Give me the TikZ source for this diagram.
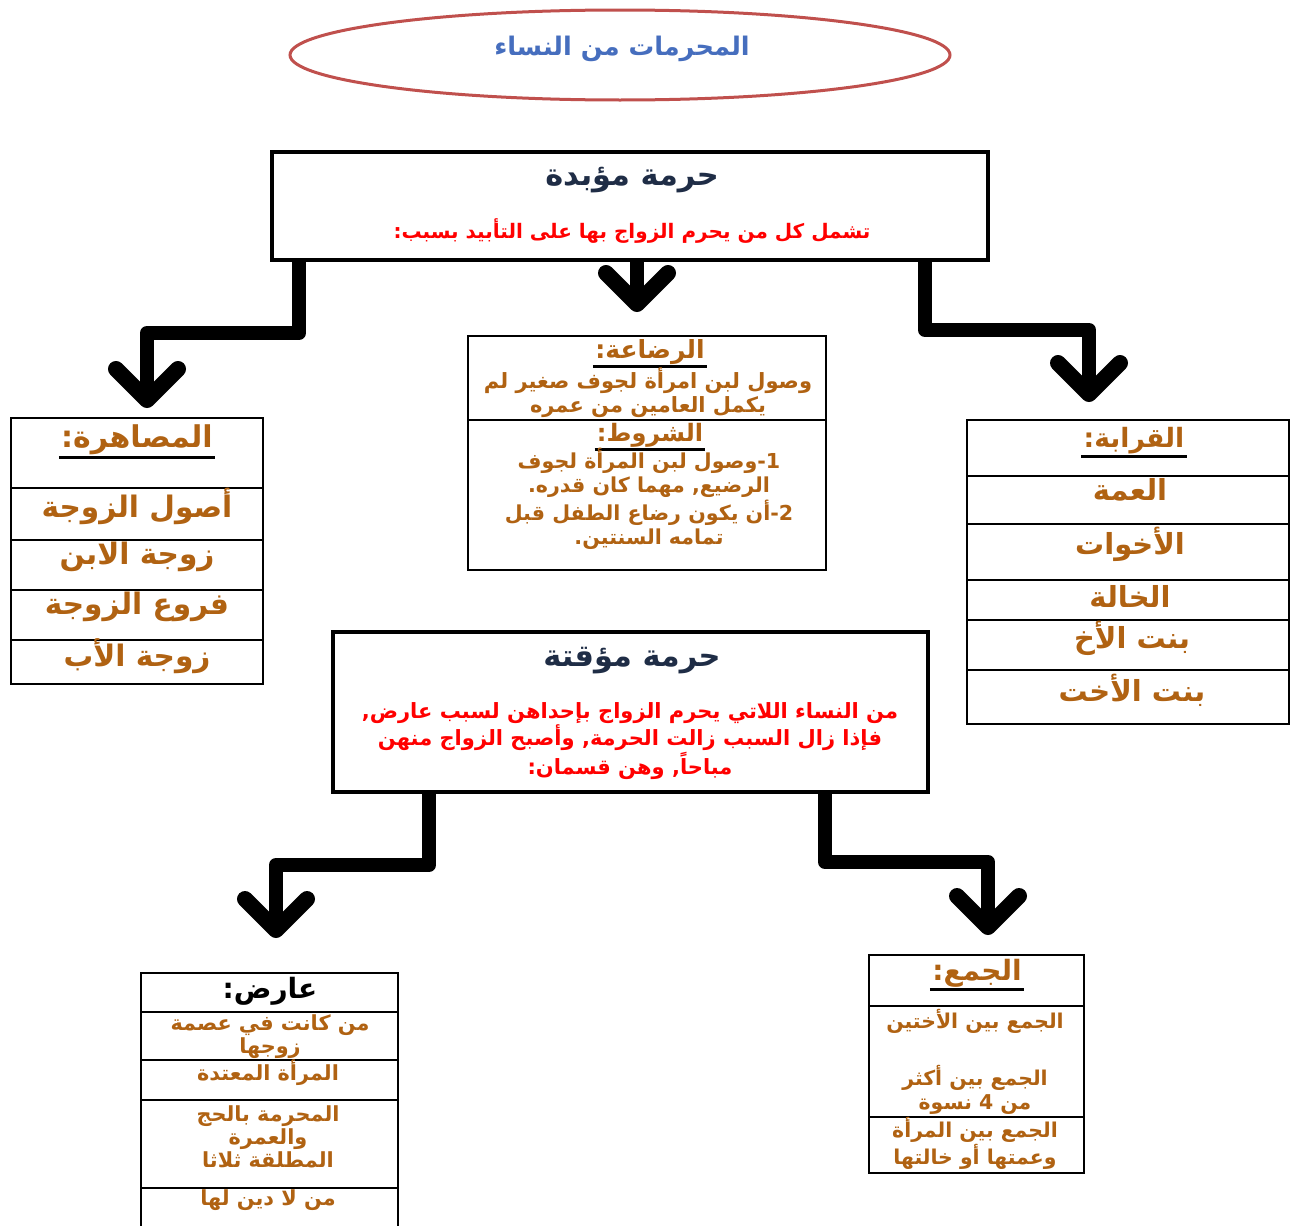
\documentclass[tikz,border=0pt]{standalone}
\usepackage{fontspec}
\usetikzlibrary{shapes.geometric}
\TeXXeTstate=1
\newfontfamily\arfont[Script=Arabic]{DejaVu Sans}
\definecolor{brn}{RGB}{176,98,18}
\definecolor{navy}{RGB}{31,45,70}
\definecolor{ttlblue}{RGB}{70,110,190}
\definecolor{ellred}{RGB}{192,80,77}
\newcommand\AR[1]{{\arfont\bfseries\beginR #1\endR}}
\newcommand\fs[2]{\fontsize{#1}{#2}\selectfont}
\newcommand\chev[1]{\draw[chevst] ([shift={(-31,-31)}]#1) -- (#1) -- ([shift={(31,-31)}]#1);}
\tikzset{
  bigbox/.style={draw=black, line width=2pt, fill=white},
  tbl/.style={draw=black, line width=1pt, fill=white},
  sep/.style={draw=black, line width=1pt},
  conn/.style={draw=black, line width=7pt, line join=round},
  chevst/.style={draw=black, line width=8pt, line join=round, line cap=round},
  txt/.style={inner sep=1pt, align=center},
  brtxt/.style={txt, text=brn},
  redtxt/.style={txt, text=red},
  uline/.style={draw=black, line width=1.5pt}
}
\begin{document}
\begin{tikzpicture}[x=0.5pt,y=-0.5pt]
\useasboundingbox[fill=white] (0,0) rectangle (1291,1226);

% title
\node[ellipse, draw=ellred, line width=1.5pt, minimum width=330pt, minimum height=45pt] (title) at (620,55) {};
\node[txt, text=ttlblue, font=\fs{12.8}{14}] (titletxt) at (622,49) {\AR{المحرمات من النساء}};

% top box
\node[bigbox, minimum width=358pt, minimum height=54pt] (top) at (630,206) {};
\node[txt, text=navy, font=\fs{15.2}{17}] (toph) at (632,180) {\AR{حرمة مؤبدة}};
\node[redtxt, font=\fs{10}{11}] (topr) at (632,231) {\AR{تشمل كل من يحرم الزواج بها على التأبيد بسبب:}};

% rada box
\node[tbl, minimum width=179pt, minimum height=117pt] (rada) at (647,453) {};
\draw[sep] (rada.west |- 0,420) -- (rada.east |- 0,420);
\node[brtxt, font=\fs{12.5}{14}] (radah) at (650,352) {\AR{الرضاعة:}};
\draw[uline] (radah.south west) -- (radah.south east);
\node[brtxt, font=\fs{10.5}{12}] (radat) at (648,393) {\AR{وصول لبن امرأة لجوف صغير لم}\\\AR{يكمل العامين من عمره}};
\node[brtxt, font=\fs{12}{14}] (shuh) at (650,435) {\AR{الشروط:}};
\draw[uline] (shuh.south west) -- (shuh.south east);
\node[brtxt, font=\fs{10.3}{12}] (shut) at (649,499) {\AR{1-وصول لبن المرأة لجوف}\\\AR{الرضيع, مهما كان قدره.}\\\AR{2-أن يكون رضاع الطفل قبل}\\\AR{تمامه السنتين.}};

% musahara table
\node[tbl, minimum width=126pt, minimum height=133pt] (mus) at (137,551) {};
\foreach \yy in {488,540,590,640} \draw[sep] (mus.west |- 0,\yy) -- (mus.east |- 0,\yy);
\node[brtxt, font=\fs{15}{16}] (mush) at (137,440) {\AR{المصاهرة:}};
\draw[uline] (mush.south west) -- (mush.south east);
\node[brtxt, font=\fs{14.8}{16}] (mus1) at (137,506) {\AR{أصول الزوجة}};
\node[brtxt, font=\fs{14.8}{16}] (mus2) at (137,557) {\AR{زوجة الابن}};
\node[brtxt, font=\fs{14.8}{16}] (mus3) at (137,607) {\AR{فروع الزوجة}};
\node[brtxt, font=\fs{14.8}{16}] (mus4) at (137,656) {\AR{زوجة الأب}};

% qaraba table
\node[tbl, minimum width=161pt, minimum height=152pt] (qar) at (1128,572) {};
\foreach \yy in {476,524,580,620,670} \draw[sep] (qar.west |- 0,\yy) -- (qar.east |- 0,\yy);
\node[brtxt, font=\fs{13.3}{15}] (qarh) at (1134,441) {\AR{القرابة:}};
\draw[uline] (qarh.south west) -- (qarh.south east);
\node[brtxt, font=\fs{14.5}{16}] (qar1) at (1130,490) {\AR{العمة}};
\node[brtxt, font=\fs{14.5}{16}] (qar2) at (1130,544) {\AR{الأخوات}};
\node[brtxt, font=\fs{14.5}{16}] (qar3) at (1130,596) {\AR{الخالة}};
\node[brtxt, font=\fs{14.5}{16}] (qar4) at (1132,638) {\AR{بنت الأخ}};
\node[brtxt, font=\fs{14.5}{16}] (qar5) at (1132,690) {\AR{بنت الأخت}};

% temporary box
\node[bigbox, minimum width=297.5pt, minimum height=80pt] (temp) at (630.5,712) {};
\node[txt, text=navy, font=\fs{15.2}{17}] (temph) at (632,661) {\AR{حرمة مؤقتة}};
\node[redtxt, font=\fs{10.5}{13.2}] (tempr) at (630,741) {\AR{من النساء اللاتي يحرم الزواج بإحداهن لسبب عارض,}\\\AR{فإذا زال السبب زالت الحرمة, وأصبح الزواج منهن}\\\AR{مباحاً, وهن قسمان:}};

% arid table
\node[tbl, minimum width=128.5pt, minimum height=133.5pt] (arid) at (269.5,1106.5) {};
\foreach \yy in {1012,1060,1100,1188} \draw[sep] (arid.west |- 0,\yy) -- (arid.east |- 0,\yy);
\node[txt, text=black, font=\fs{14}{16}] (aridh) at (270,991) {\AR{عارض:}};
\node[brtxt, font=\fs{10.4}{11.5}] (arid1) at (270,1037) {\AR{من كانت في عصمة}\\\AR{زوجها}};
\node[brtxt, font=\fs{10.4}{11.5}] (arid2) at (268,1073) {\AR{المرأة المعتدة}};
\node[brtxt, font=\fs{10.4}{11.5}] (arid3) at (268,1137) {\AR{المحرمة بالحج}\\\AR{والعمرة}\\\AR{المطلقة ثلاثا}};
\node[brtxt, font=\fs{10.4}{11.5}] (arid4) at (268,1200) {\AR{من لا دين لها}};

% jam table
\node[tbl, minimum width=107.5pt, minimum height=109pt] (jam) at (976.5,1064) {};
\foreach \yy in {1006,1117} \draw[sep] (jam.west |- 0,\yy) -- (jam.east |- 0,\yy);
\node[brtxt, font=\fs{14}{16}] (jamh) at (977,973) {\AR{الجمع:}};
\draw[uline] (jamh.south west) -- (jamh.south east);
\node[brtxt, font=\fs{10.2}{11}] (jam1) at (975,1021) {\AR{الجمع بين الأختين}};
\node[brtxt, font=\fs{10.2}{12}] (jam2) at (975,1090) {\AR{الجمع بين أكثر}\\\AR{من 4 نسوة}};
\node[brtxt, font=\fs{10.2}{12}] (jam3) at (975,1143) {\AR{الجمع بين المرأة}\\\AR{وعمتها أو خالتها}};

% connectors
\coordinate (k1) at (299,333);
\coordinate (k2) at (147,333);
\coordinate (t1) at (147,400);
\draw[conn] (top.south -| k1) -- (k1) -- (k2) -- (t1);
\chev{t1}
\coordinate (t2) at (637,304);
\draw[conn] (top.south -| t2) -- (t2);
\chev{t2}
\coordinate (k3) at (925,330);
\coordinate (k4) at (1089,330);
\coordinate (t3) at (1089,394);
\draw[conn] (top.south -| k3) -- (k3) -- (k4) -- (t3);
\chev{t3}
\coordinate (k5) at (429,865);
\coordinate (k6) at (276,865);
\coordinate (t4) at (276,930);
\draw[conn] (temp.south -| k5) -- (k5) -- (k6) -- (t4);
\chev{t4}
\coordinate (k7) at (825,862);
\coordinate (k8) at (988,862);
\coordinate (t5) at (988,927);
\draw[conn] (temp.south -| k7) -- (k7) -- (k8) -- (t5);
\chev{t5}
\end{tikzpicture}
\end{document}
